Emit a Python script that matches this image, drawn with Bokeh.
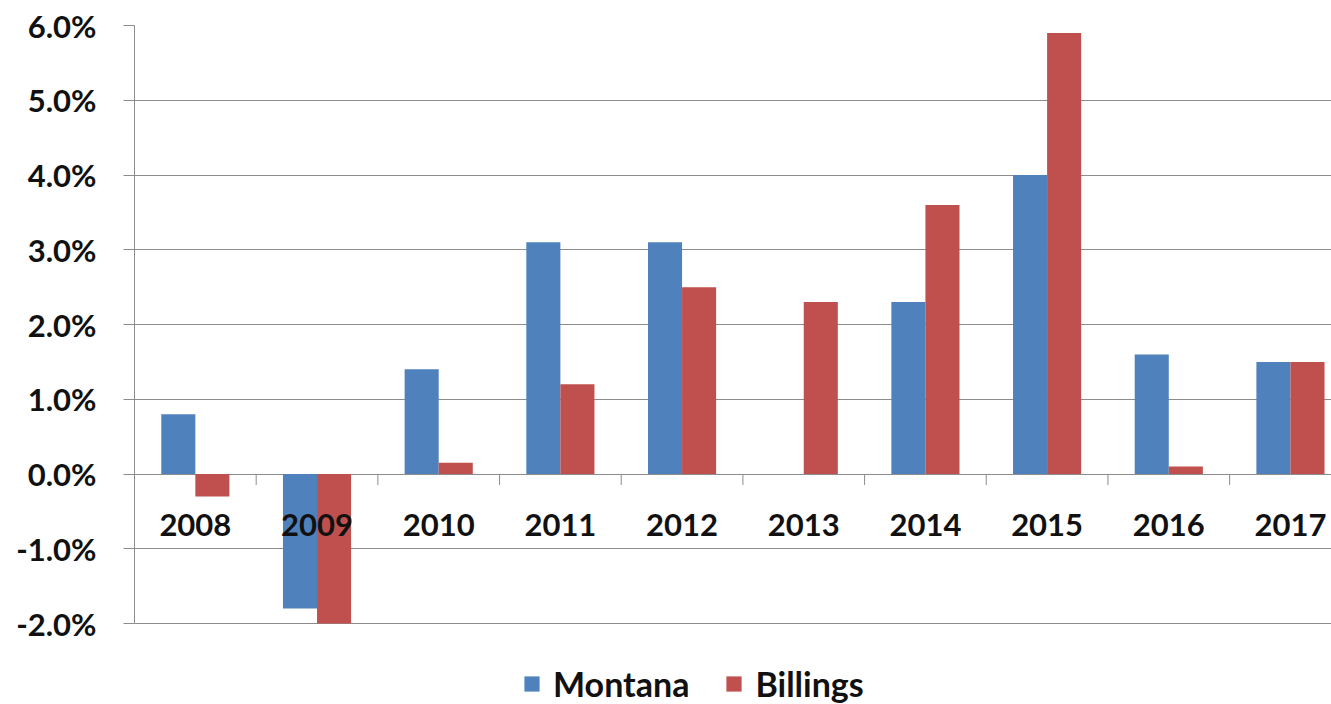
from bokeh.plotting import figure
from bokeh.models import (Range1d, FixedTicker, PrintfTickFormatter, ColumnDataSource,
                          Legend, LegendItem)
from bokeh.core.properties import value
from bokeh.embed import file_html
from bokeh.resources import INLINE

years = ["2008", "2009", "2010", "2011", "2012", "2013", "2014", "2015", "2016", "2017"]
montana = [0.8, -1.8, 1.4, 3.1, 3.1, 0.0, 2.3, 4.0, 1.6, 1.5]
billings = [-0.3, -2.0, 0.15, 1.2, 2.5, 2.3, 3.6, 5.9, 0.1, 1.5]
y_ticks = [-2, -1, 0, 1, 2, 3, 4, 5, 6]

BLUE = "#4F81BD"
RED = "#C0504D"
GRID = "#8C8C8C"
FONT = "Lato"

W, H = 1331, 704
LEFT, TOP = 134, 25
cat_px = 121.68          # pixels per category
ppu = 74.75              # pixels per 1 %
n = len(years)
idx = list(range(n))
x_end = (W - LEFT) / cat_px - 0.5
y_top = max(y_ticks)
y_lo = y_top - (H - TOP) / ppu   # extra space under -2% holds the legend

p = figure(width=W, height=H, output_backend="svg", toolbar_location=None,
           x_range=Range1d(-0.5, x_end), y_range=Range1d(y_lo, y_top),
           x_axis_location=None, min_border_left=LEFT, min_border_right=0,
           min_border_top=TOP, min_border_bottom=0)
p.outline_line_color = None
p.xgrid.visible = False

p.yaxis.ticker = FixedTicker(ticks=y_ticks)
p.yaxis.bounds = (min(y_ticks), max(y_ticks))
p.yaxis.formatter = PrintfTickFormatter(format="%.1f%%")
p.yaxis.major_label_text_font = FONT
p.yaxis.major_label_text_font_style = "bold"
p.yaxis.major_label_text_font_size = "31px"
p.yaxis.major_label_text_color = "#111111"
p.yaxis.major_label_standoff = 27
p.yaxis.major_tick_in = 0
p.yaxis.major_tick_out = 11
p.yaxis.minor_tick_line_color = None
p.yaxis.major_tick_line_color = GRID
p.yaxis.axis_line_color = GRID
p.ygrid.ticker = FixedTicker(ticks=y_ticks)
p.ygrid.grid_line_color = GRID
p.ygrid.grid_line_width = 1

bw = 0.28
src = ColumnDataSource(dict(
    xm=[i - bw / 2 for i in idx], xb=[i + bw / 2 for i in idx],
    montana=montana, billings=billings))
rm = p.vbar(x="xm", top="montana", bottom=0, width=bw, source=src,
            fill_color=BLUE, line_color=None)
rb = p.vbar(x="xb", top="billings", bottom=0, width=bw, source=src,
            fill_color=RED, line_color=None)

# category-axis tick marks between categories, hanging below zero line
tick_len = 11 / ppu
bounds = [i + 0.5 for i in idx[:-1]]
p.segment(x0=bounds, y0=[0] * len(bounds), x1=bounds, y1=[-tick_len] * len(bounds),
          line_color=GRID, line_width=1)

p.text(x=idx, y=[0] * n, text=years, y_offset=51, text_align="center",
       text_baseline="middle", text_font=value(FONT), text_font_style="bold",
       text_font_size="31px", text_color="#111111")

legend = Legend(items=[LegendItem(label="Montana", renderers=[rm]),
                       LegendItem(label="Billings", renderers=[rb])],
                orientation="horizontal", location=(388, 0),
                label_text_font=FONT, label_text_font_style="bold",
                label_text_font_size="34px", label_text_color="#111111",
                glyph_width=19, glyph_height=19, label_standoff=12, spacing=35,
                padding=0, margin=0, border_line_color=None,
                background_fill_alpha=0)
p.add_layout(legend)

open("out.html", "w").write(file_html(p, INLINE))
